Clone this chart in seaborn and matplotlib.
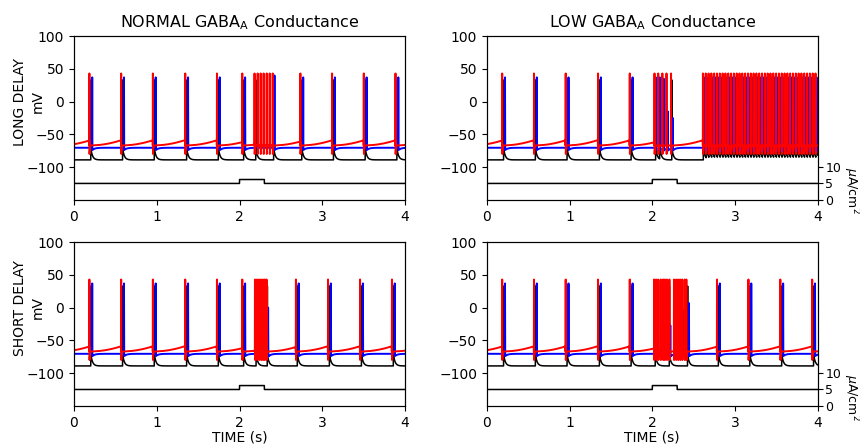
import numpy as np
import pandas as pd
import matplotlib
matplotlib.use("Agg")
import matplotlib.pyplot as plt
import seaborn as sns

# ----------------------------------------------------------------- data ----
TIME_TICKS = [0, 1, 2, 3, 4]
V_TICKS = [-100, -50, 0, 50, 100]
I_TICKS = [0, 5, 10]
COL_TITLES = ["NORMAL GABA$_{\\mathrm{A}}$ Conductance", "LOW GABA$_{\\mathrm{A}}$ Conductance"]
ROW_TITLES = ["LONG DELAY", "SHORT DELAY"]

# injected current (uA/cm^2)
I_BASE = 5.0
I_STEP = 6.2
STIM_ON, STIM_OFF = 2.0, 2.3

# resting / peak levels (mV)
REST_BLACK, PEAK_BLACK = -89.0, 33.0
REST_BLUE, PEAK_BLUE = -70.5, 37.0
REST_RED, PEAK_RED, RED_RISE = -67.0, 43.0, 8.0

# ---- LONG DELAY, NORMAL GABA_A
LN_RED = [0.185, 0.569, 0.952, 1.343, 1.726, 2.032, 2.180, 2.218, 2.254, 2.290,
          2.327, 2.363, 2.400, 2.734, 3.117, 3.500, 3.883]
LN_BLACK = [0.203, 0.587, 0.970, 1.361, 1.744, 2.050, 2.196, 2.412, 2.752, 3.135,
            3.518, 3.901]
LN_BLUE = [0.218, 0.602, 0.985, 1.376, 1.759, 2.065, 2.420, 2.767, 3.150, 3.533, 3.916]
LN_BLUE_PEAK = [37, 37, 37, 37, 37, 37, 40, 37, 37, 37, 37]

# ---- LONG DELAY, LOW GABA_A
LL_RED = [0.185, 0.569, 0.952, 1.343, 1.726, 2.025, 2.070, 2.120, 2.170, 2.225]
LL_BLACK = [0.203, 0.587, 0.970, 1.361, 1.744, 2.040, 2.088, 2.235]
LL_BLUE = [0.218, 0.602, 0.985, 1.376, 1.759, 2.040, 2.088, 2.135, 2.185, 2.245]
LL_BLUE_PEAK = [37, 37, 37, 37, 37, 37, 37, 35, -15, -25]
LL_PERSIST = [2.610, 2.644, 2.678, 2.712, 2.746, 2.780, 2.814, 2.848, 2.882, 2.916,
              2.950, 2.984, 3.018, 3.052, 3.086, 3.120, 3.154, 3.188, 3.222, 3.256,
              3.290, 3.324, 3.358, 3.392, 3.426, 3.460, 3.494, 3.528, 3.562, 3.596,
              3.630, 3.664, 3.698, 3.732, 3.766, 3.800, 3.834, 3.868, 3.902, 3.936,
              3.970]
PERSIST_LAG_BLACK, PERSIST_LAG_BLUE = 0.006, 0.012

# ---- SHORT DELAY, NORMAL GABA_A
SN_RED = [0.185, 0.569, 0.952, 1.343, 1.726, 2.032, 2.185, 2.210, 2.235, 2.260,
          2.282, 2.303, 2.325, 2.680, 3.068, 3.455, 3.840]
SN_BLACK = [0.203, 0.587, 0.970, 1.361, 1.744, 2.050, 2.200, 2.335, 2.698, 3.086,
            3.473, 3.858]
SN_BLUE = [0.218, 0.602, 0.985, 1.376, 1.759, 2.065, 2.298, 2.343, 2.713, 3.101,
           3.488, 3.873]
SN_BLUE_PEAK = [37, 37, 37, 37, 37, 37, -11, 0, 37, 37, 37, 37]

# ---- SHORT DELAY, LOW GABA_A
SL_RED = [0.185, 0.569, 0.952, 1.343, 1.726, 2.020, 2.045, 2.070, 2.100, 2.130,
          2.150, 2.175, 2.205, 2.260, 2.285, 2.310, 2.335, 2.360, 2.390, 2.410,
          2.780, 3.160, 3.545, 3.930]
SL_BLACK = [0.203, 0.587, 0.970, 1.361, 1.744, 2.035, 2.205, 2.425, 2.798, 3.178,
            3.563, 3.948]
SL_BLUE = [0.218, 0.602, 0.985, 1.376, 1.759, 2.045, 2.100, 2.160, 2.215, 2.290,
           2.365, 2.440, 2.813, 3.193, 3.578, 3.963]
SL_BLUE_PEAK = [37, 37, 37, 37, 37, 37, 37, 37, -27, 37, -4, 7, 37, 37, 37, 37]

# ------------------------------------------------------- trace building ----
DT = 0.0005
t = np.arange(0.0, 4.0 + DT / 2, DT)


def pulse(v, spikes, peaks, width, after_level):
    """overlay spike up/down strokes on top of a slow trace"""
    v = v.copy()
    for ts, pk in zip(spikes, peaks):
        m = (t >= ts) & (t < ts + width)
        if not m.any():
            continue
        s = t[m] - ts
        i0 = np.argmin(np.abs(t - ts))
        pre = v[i0]
        up = s <= width / 2
        out = np.empty_like(s)
        out[up] = pre + (pk - pre) * (s[up] / (width / 2))
        out[~up] = pk + (after_level - pk) * ((s[~up] - width / 2) / (width / 2))
        v[m] = out
    return v


def black_trace(spikes):
    w = 0.003
    v = np.full_like(t, REST_BLACK)
    for ts in spikes:
        s = t - ts - w
        v += np.where(s > 0, 16.0 * np.exp(-np.clip(s, 0, None) / 0.02), 0.0)
    return pulse(v, spikes, [PEAK_BLACK] * len(spikes), w, REST_BLACK + 16)


def blue_trace(spikes, peaks):
    w = 0.005
    v = np.full_like(t, REST_BLUE)
    for ts in spikes:
        s = t - ts - w
        v -= np.where(s > 0, 3.5 * np.exp(-np.clip(s, 0, None) / 0.03), 0.0)
    return pulse(v, spikes, peaks, w, REST_BLUE - 3.5)


def red_trace(spikes):
    w = 0.003
    sp = np.asarray(spikes)
    idx = np.searchsorted(sp, t, side="right") - 1
    s = np.where(idx >= 0, t - sp[np.clip(idx, 0, None)], t + 0.19)
    ramp = REST_RED + RED_RISE * np.clip(s / 0.385, 0, 1.3) ** 2
    ahp = np.where((idx >= 0) & (s > w), -13.0 * np.exp(-np.clip(s - w, 0, None) / 0.004), 0.0)
    v = ramp + ahp
    return pulse(v, spikes, [PEAK_RED] * len(spikes), w, REST_RED - 13)


ll_red = LL_RED + LL_PERSIST
ll_black = LL_BLACK + [x + PERSIST_LAG_BLACK for x in LL_PERSIST]
ll_blue = LL_BLUE + [x + PERSIST_LAG_BLUE for x in LL_PERSIST]
ll_blue_peak = LL_BLUE_PEAK + [PEAK_BLUE] * len(LL_PERSIST)

PANELS = [
    (LN_RED, LN_BLACK, LN_BLUE, LN_BLUE_PEAK),
    (ll_red, ll_black, ll_blue, ll_blue_peak),
    (SN_RED, SN_BLACK, SN_BLUE, SN_BLUE_PEAK),
    (SL_RED, SL_BLACK, SL_BLUE, SL_BLUE_PEAK),
]

current = np.where((t >= STIM_ON) & (t < STIM_OFF), I_STEP, I_BASE)

# -------------------------------------------------------------- figure ----
sns.set_style("ticks", rc={"axes.edgecolor": "black", "xtick.color": "black",
                           "ytick.color": "black", "text.color": "black",
                           "axes.labelcolor": "black"})
plt.rcParams["font.family"] = ["DejaVu Sans"]
plt.rcParams["mathtext.fontset"] = "dejavusans"

fig = plt.figure(figsize=(8.6, 4.46), dpi=100)
COL_X = [0.086, 0.566]
COL_W = 0.385
ROW_Y = [0.552, 0.090]
ROW_H = 0.367
ROW_TITLE_Y = [0.771, 0.309]

for k, (red_sp, black_sp, blue_sp, blue_pk) in enumerate(PANELS):
    r, c = divmod(k, 2)
    ax = fig.add_axes([COL_X[c], ROW_Y[r], COL_W, ROW_H])
    df = pd.DataFrame({
        "t": t,
        "black": black_trace(black_sp),
        "blue": blue_trace(blue_sp, blue_pk),
        "red": red_trace(red_sp),
    })
    sns.lineplot(data=df, x="t", y="black", color="black", lw=1.1, ax=ax,
                 estimator=None, sort=False)
    sns.lineplot(data=df, x="t", y="blue", color="blue", lw=1.4, ax=ax,
                 estimator=None, sort=False)
    sns.lineplot(data=df, x="t", y="red", color="red", lw=1.4, ax=ax,
                 estimator=None, sort=False)
    ax.set_xlim(0, 4)
    ax.set_ylim(-150, 100)
    ax.set_xticks(TIME_TICKS)
    ax.set_yticks(V_TICKS)
    if r == 1:
        ax.set_xlabel("TIME (s)", labelpad=1)
    else:
        ax.set_xlabel("")
    if c == 0:
        ax.set_ylabel("mV")
        ax.yaxis.set_label_coords(-0.087, 0.6)
        fig.text(0.023, ROW_TITLE_Y[r], ROW_TITLES[r], rotation=90,
                 ha="center", va="center", fontsize=10)
    else:
        ax.set_ylabel("")
    if r == 0:
        ax.set_title(COL_TITLES[c], fontsize=11.5)

    ax2 = ax.twinx()
    cdf = pd.DataFrame({"t": t, "I": current})
    sns.lineplot(data=cdf, x="t", y="I", color="black", lw=1.1, ax=ax2,
                 estimator=None, sort=False)
    ax2.set_ylim(0, 50)
    ax2.set_xlim(0, 4)
    if c == 1:
        ax2.set_yticks(I_TICKS)
        ax2.tick_params(axis="y", labelsize=9, pad=2)
        ax2.set_ylabel("$\\mu$A/cm$^2$", rotation=270, fontsize=9)
        ax2.yaxis.set_label_coords(1.13, 0.055)
    else:
        ax2.set_yticks([])
        ax2.set_ylabel("")
    for sp in ("top", "right"):
        ax.spines[sp].set_visible(True)
        ax2.spines[sp].set_visible(True)

fig.savefig("out.png", dpi=100)
